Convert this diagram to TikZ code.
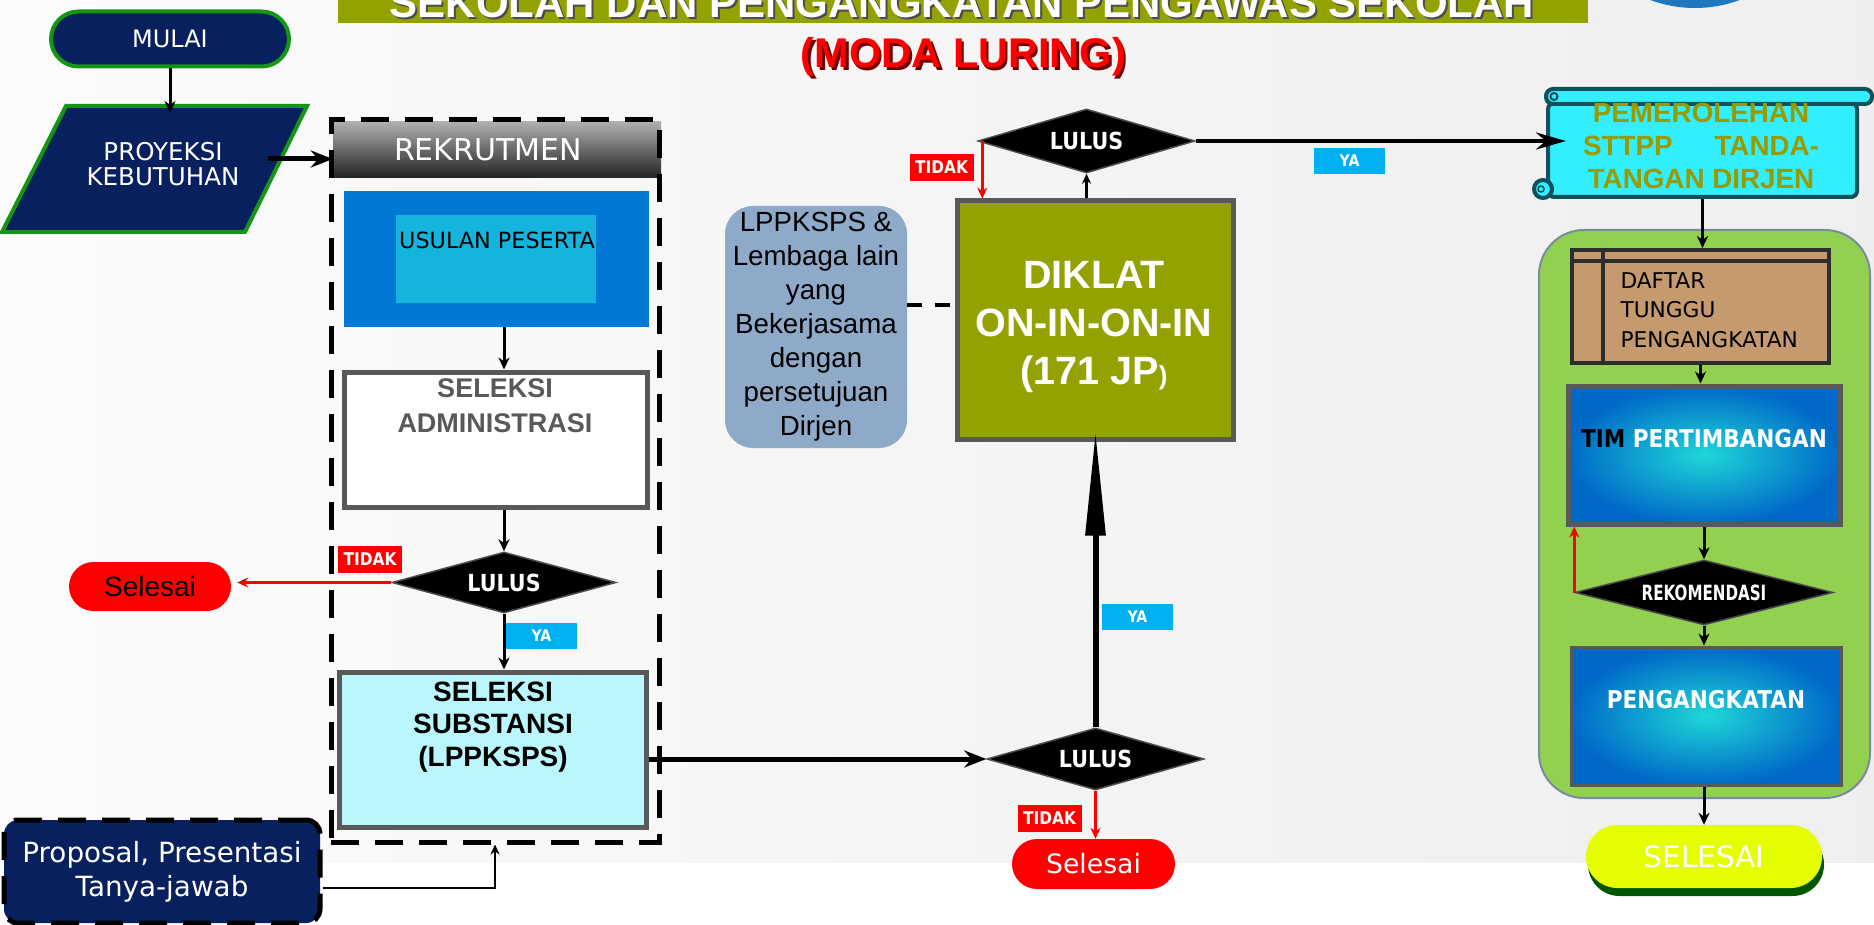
\documentclass[tikz,border=0pt]{standalone}
\usepackage{fontspec}
\newfontfamily\arial{Liberation Sans}
\newfontfamily\tahoma{DejaVu Sans}
\newfontfamily\tahomab[FakeStretch=0.88]{DejaVu Sans}
\newfontfamily\tahomasempit[FakeStretch=0.72]{DejaVu Sans}
\usetikzlibrary{shapes.geometric, shapes.misc, arrows.meta, shadows, calc}

\definecolor{biruTua}{RGB}{8,32,94}
\definecolor{hijauTepi}{RGB}{20,150,20}
\definecolor{zaitun}{RGB}{147,162,0}
\definecolor{birulaut}{RGB}{0,120,212}
\definecolor{birumuda}{RGB}{20,180,220}
\definecolor{cyanmuda}{RGB}{186,246,252}
\definecolor{abutepi}{RGB}{89,89,89}
\definecolor{abuteks}{RGB}{89,89,89}
\definecolor{biruya}{RGB}{0,176,240}
\definecolor{abulppk}{RGB}{143,169,200}
\definecolor{tosca}{RGB}{51,238,255}
\definecolor{tepigulung}{RGB}{14,80,92}
\definecolor{teksolive}{RGB}{153,153,0}
\definecolor{hijaumuda}{RGB}{146,208,80}
\definecolor{wadahtepi}{RGB}{120,140,160}
\definecolor{coklat}{RGB}{196,154,110}
\definecolor{tepicoklat}{RGB}{45,45,45}
\definecolor{kuning}{RGB}{230,255,0}
\definecolor{hijautua}{RGB}{0,85,0}
\definecolor{biruluar}{RGB}{0,105,200}
\definecolor{birutengah}{RGB}{30,215,215}
\definecolor{abuatas}{RGB}{175,175,175}
\definecolor{abutengah}{RGB}{120,120,120}
\definecolor{abubawah}{RGB}{35,35,35}
\definecolor{merahtua}{RGB}{110,0,0}
\definecolor{logobiru}{RGB}{30,120,190}

\tikzset{
  terminal/.style={rounded rectangle, inner sep=0pt},
  kotak/.style={draw=abutepi, line width=5pt, inner sep=0pt},
  kotakputus/.style={draw=black, line width=5pt, dash pattern=on 28pt off 16pt},
  keputusan/.style={diamond, aspect=3.6, fill=black, draw=black!70, line width=1.5pt, inner sep=0pt,
    text=white, font=\tahomab\bfseries\fontsize{23.5}{28}\selectfont},
  tidak/.style={fill=red, text=white, minimum width=64pt, minimum height=27pt, inner sep=0pt,
    font=\tahomab\bfseries\fontsize{17.5}{20}\selectfont},
  ya/.style={fill=biruya, text=white, minimum width=71pt, minimum height=26pt, inner sep=0pt,
    font=\tahomab\bfseries\fontsize{16}{19}\selectfont},
  panah/.style={line width=3pt, -{Stealth[length=12pt, width=11pt]}},
  panahtipis/.style={line width=2.5pt, -{Stealth[length=10pt, width=9pt]}},
  panahtebal/.style={line width=5pt, -{Stealth[length=22pt, width=17pt]}},
  merah/.style={red, line width=3pt, -{Stealth[length=11pt, width=10pt]}}
}

\begin{document}
\begin{tikzpicture}[x=1pt, y=-1pt]
  \useasboundingbox (0,0) rectangle (1874,925);

  % Фон
  \shade[left color=gray!3, right color=gray!13] (0,0) rectangle (1874,863);
  \fill[white] (0,863) rectangle (1874,925);
  \fill[logobiru] (1695,-120) circle[radius=128pt];

  % Заголовок
  \fill[zaitun] (338,0) rectangle (1588,23);
  \node[anchor=base, text=black!70, font=\arial\bfseries\fontsize{42}{50}\selectfont] (judulbayang) at (964,20) {SEKOLAH DAN PENGANGKATAN PENGAWAS SEKOLAH};
  \node[anchor=base, text=white, font=\arial\bfseries\fontsize{42}{50}\selectfont] (judul) at (962,18) {SEKOLAH DAN PENGANGKATAN PENGAWAS SEKOLAH};
  \node[anchor=base, text=merahtua, font=\arial\bfseries\fontsize{41.5}{50}\selectfont] (modabayang) at (966,71) {(MODA LURING)};
  \node[anchor=base, text=red, font=\arial\bfseries\fontsize{41.5}{50}\selectfont] (moda) at (963.5,68) {(MODA LURING)};

  % Начало и проекция
  \node[terminal, fill=biruTua, draw=hijauTepi, line width=4pt, minimum width=238pt, minimum height=55pt,
    text=white, font=\tahoma\fontsize{24}{29}\selectfont] (mulai) at (170,39) {MULAI};
  \filldraw[fill=biruTua, draw=hijauTepi, line width=4pt] (66,106) -- (307,106) -- (245,232) -- (2,232) -- cycle;
  \node[text=white, align=center, font=\tahoma\fontsize{24.5}{25}\selectfont] (proyeksi) at (163,164) {PROYEKSI\\KEBUTUHAN};
  \coordinate (proyeksiatas) at (170,113);
  \coordinate (proyeksikanan) at (268,159);

  % Рекрутмент
  \node[top color=abuatas, middle color=abutengah, bottom color=abubawah, minimum width=328pt, minimum height=56pt,
    inner sep=0pt] (rekrut) at (497,150) {};
  \node[text=white, font=\tahoma\fontsize{30}{36}\selectfont] (rekrutteks) at (488,150) {REKRUTMEN};
  \node[fill=birulaut, minimum width=305pt, minimum height=136pt] (usulan) at (496.5,259) {};
  \node[fill=birumuda, minimum width=200pt, minimum height=88pt] (usulandalam) at (496,259) {};
  \node[font=\tahoma\fontsize{22.3}{27}\selectfont] (usulanteks) at (497,240) {USULAN PESERTA};

  \node[kotak, fill=white, minimum width=303pt, minimum height=135pt] (admin) at (495.5,439.5) {};
  \node[text=abuteks, align=center, font=\arial\bfseries\fontsize{27}{35}\selectfont] (adminteks) at (495,406) {SELEKSI\\ADMINISTRASI};

  \node[keputusan, minimum width=224pt, minimum height=61pt] (lulus1) at (504,582.5) {LULUS};
  \node[tidak] (tidak1) at (370,559.5) {TIDAK};
  \node[terminal, fill=red, minimum width=162pt, minimum height=49pt, font=\arial\fontsize{28}{33}\selectfont] (selesai1) at (150,586.5) {Selesai};
  \node[ya] (ya1) at (541.5,636) {YA};

  \node[kotak, fill=cyanmuda, minimum width=307pt, minimum height=155pt] (substansi) at (492.5,749.5) {};
  \node[align=center, font=\arial\bfseries\fontsize{28}{32.5}\selectfont] (substansiteks) at (493,727) {SELEKSI\\SUBSTANSI\\(LPPKSPS)};

  \node[kotakputus, minimum width=328pt, minimum height=722pt] (rekrutbox) at (495,481) {};

  \node[fill=biruTua, draw=black, line width=5pt, dash pattern=on 28pt off 16pt, rounded corners=14pt,
    minimum width=316pt, minimum height=103pt, text=white, align=center,
    font=\tahoma\fontsize{27.8}{34}\selectfont] (proposal) at (162,871.5) {Proposal, Presentasi\\Tanya-jawab};

  % Диклат
  \node[keputusan, minimum width=217pt, minimum height=62pt] (lulus2) at (1095.5,759) {LULUS};
  \node[tidak] (tidak2) at (1049.5,818.5) {TIDAK};
  \node[terminal, fill=red, text=white, minimum width=163pt, minimum height=50pt,
    font=\tahoma\fontsize{26.7}{32}\selectfont] (selesai2) at (1093.5,864) {Selesai};
  \node[ya] (ya2) at (1137.5,616.5) {YA};

  \node[kotak, fill=zaitun, minimum width=276pt, minimum height=238pt] (diklat) at (1095,320) {};
  \node[text=white, align=center, font=\arial\bfseries\fontsize{39.5}{48}\selectfont] (diklatteks) at (1094,327) {DIKLAT\\ON-IN-ON-IN\\(171 JP{\fontsize{26}{26}\selectfont)}};
  \node[fill=abulppk, rounded corners=28pt, minimum width=182pt, minimum height=242pt, inner sep=0pt, align=center,
    font=\arial\fontsize{27.7}{34}\selectfont] (lppk) at (816,327) {LPPKSPS \&\\Lembaga lain\\yang\\Bekerjasama\\dengan\\persetujuan\\Dirjen};

  \node[keputusan, minimum width=217pt, minimum height=64pt] (lulus3) at (1086.5,141) {LULUS};
  \node[tidak] (tidak3) at (941.5,167.5) {TIDAK};
  \node[ya] (ya3) at (1349.5,161) {YA};

  % Свиток
  \node[fill=tosca, draw=tepigulung, line width=4pt, rounded corners=6pt, minimum width=309pt, minimum height=94pt] (gulungan) at (1702.5,150) {};
  \filldraw[fill=tosca, draw=tepigulung, line width=4pt, rounded corners=7pt] (1546,89) rectangle (1872,104);
  \draw[tepigulung, line width=2pt] (1554,96.5) circle[radius=3.5pt];
  \filldraw[fill=tosca, draw=tepigulung, line width=4pt] (1543,189) circle[radius=9pt];
  \draw[tepigulung, line width=1.5pt] (1541,189) circle[radius=3pt];
  \node[text=teksolive, align=center, font=\arial\bfseries\fontsize{27.8}{33}\selectfont] (sttpp) at (1701,146) {PEMEROLEHAN\\\makebox[236pt]{STTPP\hfill TANDA-}\\TANGAN DIRJEN};

  % Правая колонка
  \node[fill=hijaumuda, draw=wadahtepi, line width=2pt, rounded corners=45pt, minimum width=331pt, minimum height=568pt] (wadah) at (1704.5,514) {};
  \node[fill=coklat, draw=tepicoklat, line width=4pt, minimum width=257pt, minimum height=113pt] (daftar) at (1700.5,306.5) {};
  \draw[tepicoklat, line width=4pt] ($(daftar.north west)+(33,0)$) -- ($(daftar.south west)+(33,0)$);
  \draw[tepicoklat, line width=4pt] ($(daftar.north west)+(0,13)$) -- ($(daftar.north east)+(0,13)$);
  \node[anchor=west, align=left, font=\tahoma\fontsize{21.7}{29.5}\selectfont] (daftarteks) at (1617,310) {DAFTAR\\TUNGGU\\PENGANGKATAN};

  \node[kotak, inner color=birutengah, outer color=biruluar, minimum width=272pt, minimum height=138pt] (tim) at (1704,455) {};
  \node[text=white, font=\tahomab\bfseries\fontsize{24.5}{29}\selectfont] (timteks) at (1704,439) {\textcolor{black}{TIM} PERTIMBANGAN};

  \node[keputusan, minimum width=258pt, minimum height=65pt, font=\tahomasempit\bfseries\fontsize{21}{25}\selectfont] (rekom) at (1704,592.5) {REKOMENDASI};

  \node[kotak, line width=3pt, inner color=birutengah, outer color=biruluar, minimum width=270pt, minimum height=138pt] (angkat) at (1706,716) {};
  \node[text=white, font=\tahomab\bfseries\fontsize{24.5}{29}\selectfont] (angkatteks) at (1706,700) {PENGANGKATAN};

  \node[terminal, fill=kuning, drop shadow={fill=hijautua, opacity=1, shadow xshift=2pt, shadow yshift=-8pt},
    minimum width=236pt, minimum height=63pt, text=white, font=\tahoma\fontsize{29.5}{35}\selectfont] (selesai3) at (1704,856.5) {SELESAI};

  % Стрелки
  \draw[panah] (mulai) -- (proyeksiatas);
  \draw[panahtebal] (proyeksikanan) -- (rekrut.west |- proyeksikanan);
  \draw[panah] (lulus1.north |- usulan.south) -- (lulus1.north |- admin.north);
  \draw[panah] (lulus1.north |- admin.south) -- (lulus1.north);
  \draw[merah, shorten >=6pt] (lulus1.west) -- (selesai1.east |- lulus1.west);
  \draw[panah] (lulus1.south) -- (lulus1.south |- substansi.north);
  \draw[panahtipis] ([yshift=-16.5pt]proposal.east) -| (rekrutbox.south);
  \draw[panahtebal] (substansi.east |- lulus2.west) -- (lulus2.west);
  \draw[merah] (lulus2.south) -- (lulus2.south |- selesai2.north);
  \draw[line width=6pt, -{Triangle[length=105pt, width=19pt]}] (lulus2.north) -- ($(lulus2.north |- diklat.south)+(0,-11)$);
  \draw[line width=4pt, dash pattern=on 15pt off 13pt] ($(lppk.east)+(0,-22)$) -- ($(diklat.west |- lppk.east)+(0,-22)$);
  \draw[panahtipis] (lulus3.south |- diklat.north) -- (lulus3.south);
  \draw[merah, line width=2.5pt] ($(lulus3.west)+(5,0)$) -- ($(lulus3.west |- diklat.north)+(5,0)$);
  \draw[line width=4.5pt, -{Stealth[length=30pt, width=17pt]}] (lulus3.east) -- ($(gulungan.west |- lulus3.east)+(20,0)$);
  \draw[panah] (gulungan.south) -- (gulungan.south |- daftar.north);
  \draw[panah] (daftar.south) -- (daftar.south |- tim.north);
  \draw[panah] (tim.south) -- (tim.south |- rekom.north);
  \draw[merah, line width=2.5pt] (rekom.west) -- (rekom.west |- tim.south);
  \draw[panah] (rekom.south) -- (rekom.south |- angkat.north);
  \draw[panah] (rekom.south |- angkat.south) -- (rekom.south |- selesai3.north);
\end{tikzpicture}
\end{document}
